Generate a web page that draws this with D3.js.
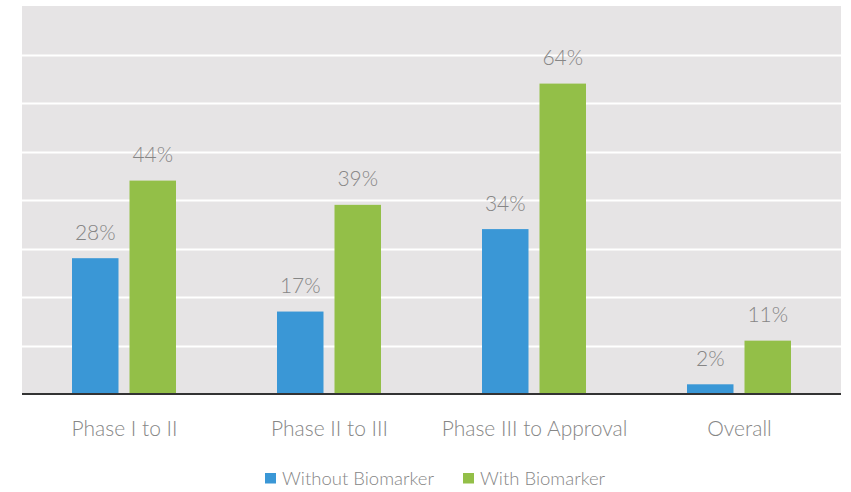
<!DOCTYPE html>
<html>
<head>
<meta charset="utf-8">
<script src="https://cdn.jsdelivr.net/npm/d3@7"></script>
<style>
  body { margin: 0; background: #fff; }
  text { font-family: Lato, "Open Sans", sans-serif; font-weight: 300; fill: #868686; }
</style>
</head>
<body>
<svg id="chart" width="851" height="492"></svg>
<script>
const categories = ["Phase I to II", "Phase II to III", "Phase III to Approval", "Overall"];
const seriesNames = ["Without Biomarker", "With Biomarker"];
const withoutBiomarker = [28, 17, 34, 2];
const withBiomarker = [44, 39, 64, 11];
const yTicks = [0, 10, 20, 30, 40, 50, 60, 70, 80];

const colors = ["#3a97d6", "#93bf48"];

const svg = d3.select("#chart");
const plotLeft = 22, plotRight = 842, plotTop = 6, plotBottom = 394;

const x = d3.scaleBand().domain(categories).range([plotLeft, plotRight]).padding(0);
const sub = d3.scaleOrdinal().domain(seriesNames).range([-52.5, 5]);
const barW = 46.5;
const y = d3.scaleLinear().domain([0, 80]).range([plotBottom, plotTop]);

// plot background
svg.append("rect")
  .attr("x", plotLeft).attr("y", plotTop)
  .attr("width", plotRight - plotLeft - 1).attr("height", plotBottom - plotTop)
  .attr("fill", "#e6e4e5");

// gridlines
svg.append("g")
  .selectAll("line")
  .data(yTicks.slice(1, -1))
  .join("line")
  .attr("x1", plotLeft).attr("x2", plotRight - 1)
  .attr("y1", d => Math.round(y(d)) + 0.5)
  .attr("y2", d => Math.round(y(d)) + 0.5)
  .attr("stroke", "#fff")
  .attr("stroke-width", 2);

const rows = categories.map((c, i) => ({
  cat: c,
  vals: [withoutBiomarker[i], withBiomarker[i]]
}));

const groups = svg.append("g")
  .selectAll("g")
  .data(rows)
  .join("g")
  .attr("transform", d => `translate(${x(d.cat) + x.bandwidth() / 2},0)`);

groups.selectAll("rect")
  .data(d => d.vals.map((v, j) => ({ v, s: seriesNames[j], j })))
  .join("rect")
  .attr("x", d => sub(d.s))
  .attr("y", d => y(d.v))
  .attr("width", barW)
  .attr("height", d => plotBottom - y(d.v))
  .attr("fill", d => colors[d.j]);

groups.selectAll("text.val")
  .data(d => d.vals.map((v, j) => ({ v, s: seriesNames[j] })))
  .join("text")
  .attr("class", "val")
  .attr("x", d => sub(d.s) + barW / 2)
  .attr("y", d => y(d.v) - 18.5)
  .attr("text-anchor", "middle")
  .attr("font-size", 21)
  .text(d => d.v + "%");

// baseline
svg.append("line")
  .attr("x1", plotLeft).attr("x2", plotRight - 1)
  .attr("y1", plotBottom).attr("y2", plotBottom)
  .attr("stroke", "#333")
  .attr("stroke-width", 2);

// category axis
const xAxis = svg.append("g")
  .attr("transform", `translate(0,${plotBottom})`)
  .call(d3.axisBottom(x).tickSize(0).tickPadding(27));
xAxis.select(".domain").remove();
xAxis.selectAll("text")
  .attr("font-size", 21)
  .attr("fill", "#858585")
  .style("font-family", "Lato, 'Open Sans', sans-serif");

// legend
const legendX = [265, 463];
const legend = svg.append("g")
  .selectAll("g")
  .data(seriesNames)
  .join("g")
  .attr("transform", (d, i) => `translate(${legendX[i]},473)`);
legend.append("rect")
  .attr("width", 11).attr("height", 10.5)
  .attr("fill", (d, i) => colors[i]);
legend.append("text")
  .attr("x", 17).attr("y", 11.5)
  .attr("font-size", 18.5)
  .text(d => d);
</script>
</body>
</html>
